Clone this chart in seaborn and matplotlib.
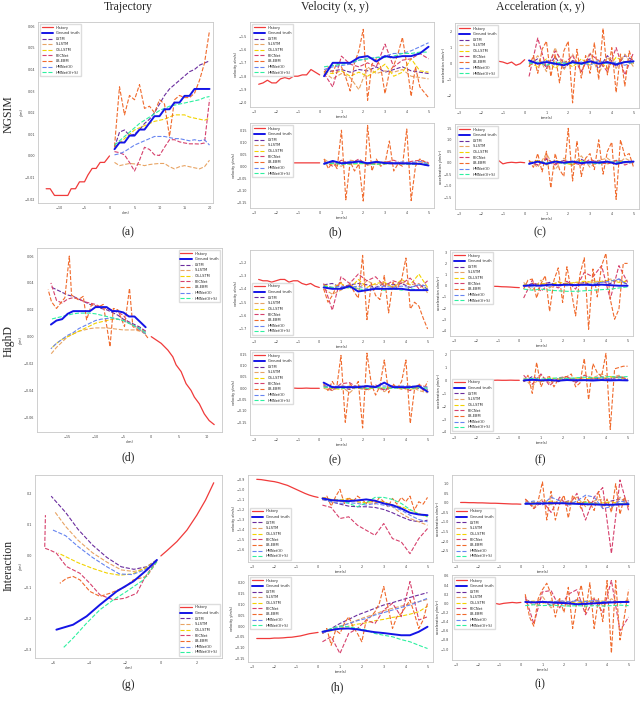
import matplotlib
matplotlib.use("Agg")
import matplotlib.pyplot as plt
import seaborn as sns

# ---------------- shared axes data ----------------
t_hist = [-2.8, -2.6, -2.4, -2.2, -2.0, -1.8, -1.6, -1.4, -1.2, -1.0, -0.8, -0.6, -0.4, -0.2, 0.0]
t_pred = [0.2, 0.6, 1.0, 1.4, 1.8, 2.2, 2.6, 3.0, 3.4, 3.8, 4.2, 4.6, 5.0]
t_fine = [0.2, 0.4, 0.6, 0.8, 1.0, 1.2, 1.4, 1.6, 1.8, 2.0, 2.2, 2.4, 2.6, 2.8, 3.0,
          3.2, 3.4, 3.6, 3.8, 4.0, 4.2, 4.4, 4.6, 4.8, 5.0]
series_names = ["History", "Ground truth", "LSTM", "S-LSTM", "CS-LSTM", "PECNet",
                "LB-EBM", "HMNet(V)", "HMNet(V+S)"]
col_titles = ["Trajectory", "Velocity (x, y)", "Acceleration (x, y)"]
row_titles = ["NGSIM", "HighD", "Interaction"]
panel_tags = ["(a)", "(b)", "(c)", "(d)", "(e)", "(f)", "(g)", "(h)", "(i)"]

# ---------------- (a) NGSIM trajectory ----------------
a_hist_x = [-12.67, -11.87, -11.0, -8.33, -7.67, -6.8, -6.0, -5.0, -4.33, -3.47, -2.67, -1.87, -1.0, 0.0]
a_hist_y = [-0.0152, -0.0152, -0.0183, -0.0183, -0.0152, -0.0152, -0.012, -0.012, -0.0089, -0.0058,
            -0.0058, -0.003, -0.003, 0.0]
a_pred_x = [1, 2, 3, 4, 5, 6, 7, 8, 9, 10, 11, 12, 13, 14, 15, 16, 17, 18, 19, 20]
a_gt = [0.0031, 0.0062, 0.0062, 0.0094, 0.0094, 0.0122, 0.0122, 0.0153, 0.0184, 0.0184, 0.0216, 0.0216,
        0.0247, 0.0247, 0.0278, 0.0278, 0.031, 0.031, 0.031, 0.031]
a_lstm = [0.004, 0.011, 0.012, 0.0095, 0.010, 0.012, 0.015, 0.017, 0.020, 0.024, 0.028, 0.031, 0.033,
          0.035, 0.037, 0.039, 0.040, 0.042, 0.043, 0.044]
a_slstm = [-0.003, -0.0045, -0.004, -0.0035, -0.0037, -0.004, -0.0045, -0.004, -0.0037, -0.0035, -0.0035,
           -0.005, -0.006, -0.005, -0.0045, -0.005, -0.0055, -0.006, -0.005, -0.002]
a_cslstm = [0.004, 0.006, 0.008, 0.010, 0.012, 0.013, 0.014, 0.015, 0.016, 0.0165, 0.017, 0.018, 0.019,
            0.019, 0.019, 0.018, 0.0175, 0.017, 0.0165, 0.0175]
a_pecnet = [0.002, 0.0015, 0.0005, -0.003, -0.007, -0.002, 0.004, 0.003, 0.0005, 0.0002, 0.004, 0.0075,
            0.0075, 0.0065, 0.006, 0.0056, 0.0056, 0.0055, 0.006, 0.026]
a_lbebm = [0.0044, 0.032, 0.019, 0.028, 0.026, 0.033, 0.022, 0.023, 0.020, 0.026, 0.024, 0.009, 0.026,
           0.028, 0.027, 0.027, 0.029, 0.035, 0.043, 0.058]
a_hmv = [0.0005, 0.001, 0.002, 0.0035, 0.005, 0.006, 0.007, 0.008, 0.009, 0.009, 0.009, 0.0085, 0.008,
         0.008, 0.0075, 0.007, 0.0075, 0.007, 0.0075, 0.005]
a_hmvs = [0.005, 0.007, 0.009, 0.011, 0.013, 0.015, 0.0165, 0.018, 0.0195, 0.021, 0.022, 0.023, 0.0235,
          0.024, 0.0245, 0.025, 0.0255, 0.026, 0.027, 0.0275]

# ---------------- (d) HighD trajectory ----------------
d_hist_x = [0, 1.79, 2.98, 3.87, 4.46, 5.36, 6.25, 7.14, 7.74, 8.63, 9.52, 10.4, 11.3]
d_hist_y = [0, -0.005, -0.010, -0.015, -0.021, -0.026, -0.035, -0.040, -0.045, -0.050, -0.0575, -0.0625, -0.0655]
d_pred_x = [-1, -2, -3, -4, -5, -6, -7, -8, -9, -10, -11, -12, -13, -14, -15, -16, -17, -18]
d_gt = [0.007, 0.011, 0.015, 0.015, 0.018, 0.019, 0.019, 0.022, 0.022, 0.022, 0.019, 0.019, 0.019, 0.019,
        0.017, 0.013, 0.012, 0.009]
d_lstm = [0.004, 0.007, 0.009, 0.011, 0.013, 0.016, 0.018, 0.020, 0.021, 0.023, 0.024, 0.026, 0.028, 0.030,
          0.031, 0.033, 0.035, 0.037]
d_slstm = [0.002, 0.004, 0.005, 0.005, 0.005, 0.0055, 0.006, 0.0065, 0.0065, 0.0065, 0.006, 0.005, 0.004,
           0.002, 0.0, -0.004, -0.008, -0.013]
d_cslstm = [0.002, 0.005, 0.008, 0.010, 0.012, 0.013, 0.013, 0.012, 0.011, 0.010, 0.008, 0.006, 0.004,
            0.002, 0.0, -0.002, -0.005, -0.009]
d_pecnet = [0.004, 0.006, 0.008, 0.010, 0.016, 0.018, 0.020, 0.021, 0.022, 0.024, 0.025, 0.026, 0.028,
            0.029, 0.028, 0.025, 0.027, 0.040]
d_lbebm_x = [-0.6, -1.5, -2.4, -3.3, -3.9, -4.8, -6.0, -6.8, -7.4, -8.6, -9.5, -10.7, -11.6, -12.2, -13.1,
             -14.3, -14.7, -15.5, -17.0, -17.9, -18.5]
d_lbebm = [-0.001, 0.004, 0.005, 0.0075, 0.036, 0.0075, 0.020, 0.021, -0.0075, 0.024, 0.022, 0.024, 0.0125,
           0.030, 0.0275, 0.031, 0.060, 0.029, 0.021, 0.026, 0.035]
d_hmv = [0.002, 0.005, 0.008, 0.010, 0.012, 0.013, 0.014, 0.0135, 0.013, 0.012, 0.010, 0.008, 0.006, 0.003,
         0.001, -0.002, -0.005, -0.009]
d_hmvs = [0.003, 0.006, 0.008, 0.010, 0.012, 0.013, 0.014, 0.015, 0.016, 0.017, 0.0175, 0.0175, 0.0175,
          0.017, 0.016, 0.015, 0.014, 0.013]

# ---------------- (g) Interaction trajectory ----------------
g_hist_x = [0, 0.34, 0.89, 1.45, 2.0, 2.48, 2.94]
g_hist_y = [0, 0.017, 0.046, 0.083, 0.131, 0.179, 0.235]
g_gt_x = [-0.22, -0.78, -1.53, -2.46, -3.39, -4.13, -4.88, -5.81]
g_gt_y = [-0.013, -0.045, -0.082, -0.114, -0.157, -0.194, -0.221, -0.237]
g_lstm_x = [-0.22, -0.8, -1.5, -2.2, -3.0, -3.8, -4.6, -5.3, -6.1]
g_lstm_y = [-0.013, -0.035, -0.043, -0.035, -0.005, 0.035, 0.085, 0.14, 0.192]
g_slstm_x = [-0.22, -0.8, -1.5, -2.2, -3.0, -3.8, -4.6, -5.3, -5.9]
g_slstm_y = [-0.013, -0.04, -0.05, -0.045, -0.02, 0.01, 0.05, 0.095, 0.142]
g_cslstm_x = [-0.22, -0.9, -1.6, -2.3, -3.0, -3.8, -4.6, -5.2, -5.7]
g_cslstm_y = [-0.013, -0.04, -0.058, -0.062, -0.055, -0.04, -0.022, -0.005, 0.009]
g_pecnet_x = [-0.22, -0.9, -1.34, -2.0, -2.64, -3.39, -3.95, -4.5, -5.25, -5.53, -5.81, -6.18, -6.46, -6.42]
g_pecnet_y = [-0.013, -0.07, -0.12, -0.136, -0.141, -0.125, -0.088, -0.056, -0.034, -0.013, 0.009, 0.019,
              0.025, 0.131]
g_lbebm_x = [-0.22, -0.78, -1.53, -2.0, -2.83, -3.39, -3.95, -4.5, -4.88, -5.25, -5.62]
g_lbebm_y = [-0.018, -0.066, -0.077, -0.10, -0.12, -0.13, -0.114, -0.077, -0.066, -0.072, -0.088]
g_hmv_x = [-0.22, -0.9, -1.6, -2.3, -3.0, -3.8, -4.6, -5.3, -6.0]
g_hmv_y = [-0.013, -0.045, -0.06, -0.058, -0.035, -0.005, 0.03, 0.065, 0.083]
g_hmvs_x = [-0.22, -0.97, -1.9, -2.64, -3.39, -4.13, -4.88, -5.44]
g_hmvs_y = [-0.018, -0.077, -0.114, -0.141, -0.173, -0.216, -0.264, -0.296]

# ---------------- (b) NGSIM velocity ----------------
b1_hist = [-1.86, -1.85, -1.83, -1.85, -1.85, -1.82, -1.81, -1.82, -1.80, -1.80, -1.79, -1.79, -1.75, -1.77, -1.79]
b1_gt = [-1.80, -1.70, -1.70, -1.70, -1.66, -1.65, -1.69, -1.65, -1.66, -1.65, -1.65, -1.63, -1.58]
b1_lstm = [-1.77, -1.76, -1.75, -1.77, -1.75, -1.76, -1.73, -1.77, -1.75, -1.73, -1.76, -1.77, -1.78]
b1_slstm = [-1.77, -1.82, -1.78, -1.81, -1.90, -1.73, -1.78, -1.76, -1.77, -1.75, -1.80, -1.81, -1.82]
b1_cslstm = [-1.77, -1.78, -1.76, -1.80, -1.77, -1.80, -1.76, -1.71, -1.80, -1.77, -1.67, -1.76, -1.77]
b1_pecnet = [-1.78, -1.88, -1.65, -1.71, -1.73, -1.70, -1.73, -1.56, -1.73, -1.68, -1.67, -1.63, -1.67]
b1_lbebm = [-1.77, -1.73, -1.77, -1.70, -1.73, -1.81, -1.91, -1.70, -1.61, -1.45, -1.98, -1.71, -1.67, -1.73,
            -1.93, -1.77, -1.72, -1.63, -1.51, -1.71, -1.95, -1.73, -1.88, -1.92, -1.96]
b1_hmv = [-1.75, -1.73, -1.72, -1.71, -1.68, -1.67, -1.66, -1.65, -1.63, -1.63, -1.61, -1.58, -1.55]
b1_hmvs = [-1.73, -1.72, -1.71, -1.70, -1.68, -1.67, -1.66, -1.66, -1.65, -1.63, -1.63, -1.62, -1.62]

b2_hist = [0.012, 0.015, 0.005, 0.012, 0.017, 0.005, 0.013, 0.014, 0.014, 0.014, 0.014, 0.014, 0.014, 0.014, 0.014]
b2_gt = [0.010, 0.022, 0.012, 0.015, 0.020, 0.012, 0.018, 0.013, 0.012, 0.012, 0.011, 0.010, 0.003]
b2_lstm = [0.010, 0.015, 0.010, 0.012, 0.013, 0.010, 0.014, 0.012, 0.010, 0.012, 0.010, 0.011, 0.002]
b2_slstm = [0.030, 0.005, 0.000, 0.025, 0.020, 0.005, 0.010, 0.020, 0.015, 0.010, 0.012, 0.018, 0.010]
b2_cslstm = [0.015, 0.010, 0.012, 0.008, 0.010, 0.012, 0.008, 0.010, 0.012, 0.010, 0.008, 0.010, 0.005]
b2_pecnet = [0.020, 0.000, 0.025, 0.010, 0.030, 0.005, 0.020, 0.015, 0.025, 0.010, 0.020, 0.025, 0.015]
b2_lbebm = [0.03, -0.01, 0.02, -0.01, 0.15, -0.14, 0.02, -0.02, 0.01, -0.145, 0.17, -0.02, 0.03, 0.0, 0.01,
            0.105, -0.02, 0.01, 0.0, 0.155, -0.143, 0.0, 0.03, 0.02, 0.01]
b2_hmv = [0.015, 0.018, 0.015, 0.020, 0.015, 0.015, 0.018, 0.016, 0.015, 0.018, 0.015, 0.020, 0.010]
b2_hmvs = [0.010, 0.012, 0.008, 0.010, 0.012, 0.010, 0.008, 0.010, 0.012, 0.010, 0.008, 0.010, 0.008]

# ---------------- (c) NGSIM acceleration ----------------
c1_hist = [0.2, 0.1, 0.3, 0.2, 0.1, 0.2, 0.25, 0.2, 0.15, 0.1, 0.0, 0.1, -0.1, 0.0, 0.25]
c1_gt = [0.2, 0.0, 0.1, 0.0, -0.1, 0.1, 0.0, 0.15, 0.0, 0.1, -0.05, 0.1, 0.15]
c1_lstm = [0.0, 0.3, -0.2, 0.4, -0.3, 0.2, 0.0, 0.3, -0.3, 0.5, -0.2, 0.5, 0.2]
c1_slstm = [-0.2, 0.5, -0.5, 1.0, -0.4, 0.6, -0.5, 0.7, -0.6, 0.4, -0.3, 0.6, -0.2]
c1_cslstm = [0.1, -0.2, 0.3, -0.3, 0.2, -0.2, 0.3, -0.1, 0.2, -0.3, 0.4, 0.1, 0.0]
c1_pecnet = [-0.8, 1.6, -0.3, 0.8, 0.0, 0.5, -0.5, 0.6, 0.2, -0.5, 1.0, -0.7, 0.7]
c1_lbebm = [-0.2, 0.5, -0.6, 0.9, 1.4, -0.8, 0.6, -1.2, 0.8, 1.4, -2.45, 0.9, -0.9, 0.5, -0.6, 1.3, -1.0,
            2.2, -0.7, 1.0, -1.8, 0.6, -1.4, 0.8, 0.0]
c1_hmv = [0.1, 0.0, 0.2, -0.1, 0.1, 0.0, 0.1, -0.1, 0.2, 0.0, 0.1, -0.1, 0.1]
c1_hmvs = [0.0, 0.1, -0.1, 0.1, 0.0, 0.05, -0.05, 0.1, 0.0, 0.05, 0.0, 0.1, 0.05]

c2_hist = [0.0, 0.02, 0.0, 0.05, -0.05, 0.0, 0.03, 0.0, 0.1, -0.05, 0.0, 0.02, 0.0, 0.02, 0.0]
c2_gt = [-0.05, 0.05, -0.05, 0.05, 0.0, 0.05, -0.02, 0.03, 0.0, 0.05, -0.05, 0.03, 0.05]
c2_lstm = [0.05, -0.1, 0.15, -0.05, 0.1, -0.1, 0.15, -0.05, 0.1, -0.05, 0.1, 0.05, 0.0]
c2_slstm = [0.1, -0.2, 0.4, -0.3, 0.2, -0.1, 0.3, -0.2, 0.1, 0.2, -0.1, 0.2, 0.0]
c2_cslstm = [0.0, 0.1, -0.1, 0.1, 0.0, -0.1, 0.1, 0.0, 0.05, -0.05, 0.1, 0.0, 0.05]
c2_pecnet = [0.05, -0.1, 0.2, -0.1, 0.1, 0.0, -0.1, 0.15, 0.0, -0.05, 0.1, -0.1, 0.05]
c2_lbebm = [0.1, -0.2, 0.4, -0.4, 0.5, -1.1, 0.4, -0.3, -0.6, 1.5, -0.8, 0.95, -0.6, 0.2, 0.4, -0.3, 1.0,
            -0.5, 0.5, 0.9, -1.6, 1.0, 0.3, 0.4, -0.2]
c2_hmv = [0.0, 0.05, -0.05, 0.05, 0.0, 0.05, 0.0, -0.05, 0.05, 0.0, 0.05, 0.0, 0.0]
c2_hmvs = [-0.05, 0.05, 0.0, 0.05, -0.05, 0.0, 0.05, 0.0, -0.05, 0.05, 0.0, 0.05, 0.0]

# ---------------- (e) HighD velocity ----------------
e1_hist = [-1.33, -1.34, -1.34, -1.35, -1.34, -1.33, -1.33, -1.35, -1.34, -1.34, -1.36, -1.37, -1.36, -1.38, -1.39]
e1_gt = [-1.39, -1.40, -1.40, -1.38, -1.42, -1.41, -1.40, -1.40, -1.40, -1.40, -1.41, -1.41, -1.41]
e1_lstm = [-1.37, -1.36, -1.39, -1.37, -1.36, -1.37, -1.39, -1.36, -1.37, -1.36, -1.39, -1.37, -1.40]
e1_slstm = [-1.40, -1.44, -1.41, -1.37, -1.40, -1.34, -1.37, -1.36, -1.39, -1.35, -1.37, -1.36, -1.43]
e1_cslstm = [-1.37, -1.39, -1.36, -1.40, -1.33, -1.39, -1.36, -1.35, -1.39, -1.33, -1.37, -1.29, -1.39]
e1_pecnet = [-1.36, -1.56, -1.31, -1.36, -1.29, -1.34, -1.31, -1.38, -1.34, -1.36, -1.32, -1.40, -1.34]
e1_lbebm = [-1.40, -1.50, -1.45, -1.38, -1.35, -1.40, -1.36, -1.42, -1.47, -1.15, -1.63, -1.36, -1.45, -1.48,
            -1.30, -1.58, -1.35, -1.40, -1.33, -1.17, -1.55, -1.50, -1.53, -1.62, -1.70]
e1_hmv = [-1.38, -1.39, -1.38, -1.39, -1.38, -1.40, -1.39, -1.38, -1.39, -1.38, -1.39, -1.37, -1.38]
e1_hmvs = [-1.38, -1.39, -1.40, -1.39, -1.40, -1.41, -1.40, -1.41, -1.40, -1.41, -1.40, -1.41, -1.40]

e2_hist = [0.0, 0.0, 0.001, 0.0, 0.0, 0.001, 0.0, 0.0, 0.001, 0.0, 0.0, 0.001, 0.0, 0.0, 0.0]
e2_gt = [0.025, 0.005, 0.005, 0.005, 0.005, 0.01, 0.005, 0.025, 0.005, 0.005, 0.005, 0.01, -0.015]
e2_lstm = [0.01, 0.0, 0.005, -0.005, 0.01, 0.0, 0.005, -0.005, 0.01, 0.0, 0.005, 0.0, -0.005]
e2_slstm = [0.0, -0.01, 0.01, -0.02, 0.015, -0.01, 0.01, -0.015, 0.01, -0.005, 0.01, -0.01, -0.02]
e2_cslstm = [0.005, 0.0, -0.005, 0.01, 0.0, -0.005, 0.005, 0.0, 0.005, 0.0, -0.005, 0.005, -0.01]
e2_pecnet = [0.015, -0.01, 0.02, 0.025, 0.0, -0.005, 0.015, -0.01, 0.01, 0.005, -0.01, 0.015, 0.005]
e2_lbebm = [0.02, -0.01, 0.03, 0.0, 0.145, -0.15, 0.02, 0.0, 0.03, -0.175, 0.155, 0.02, -0.03, 0.01, 0.125,
            -0.02, 0.02, 0.0, 0.03, 0.125, -0.155, 0.0, 0.02, -0.01, 0.03]
e2_hmv = [0.01, 0.008, 0.01, 0.008, 0.01, 0.008, 0.01, 0.01, 0.008, 0.01, 0.01, 0.008, 0.005]
e2_hmvs = [0.005, 0.003, 0.0, 0.003, 0.002, 0.0, 0.003, 0.002, 0.0, 0.002, 0.0, 0.003, 0.0]

# ---------------- (f) HighD acceleration ----------------
f1_hist = [0.06, 0.05, 0.05, 0.03, 0.02, 0.01, -0.01, -0.03, -0.05, -0.06, -0.09, -0.1, -0.12, -0.15, -0.17]
f1_gt = [0.0, 0.05, 0.0, 0.1, 0.05, 0.1, 0.05, 0.1, 0.05, 0.1, 0.05, 0.0, 0.0]
f1_lstm = [-0.1, 0.2, 0.1, 0.3, 0.0, 0.2, 0.1, 0.3, 0.0, 0.4, 0.2, 0.6, 0.1]
f1_slstm = [0.3, -0.4, 0.5, -0.2, 0.4, 0.0, 0.3, 0.2, 0.5, 0.3, 0.6, 0.4, 0.5]
f1_cslstm = [0.1, 0.0, 0.2, 0.1, 0.3, 0.2, 0.3, 0.4, 0.3, 0.4, 0.5, 0.3, 0.4]
f1_pecnet = [-1.1, 0.5, -0.5, 0.2, -0.2, 0.4, -0.3, 1.2, 0.8, 1.8, -1.2, 1.8, 0.3]
f1_lbebm = [-0.3, 0.5, 0.6, -1.1, 0.2, 0.9, -2.3, 0.5, 1.6, -1.5, 1.7, -0.5, -2.7, 1.0, 2.5, -3.9, 1.5,
            -1.0, 1.8, 2.9, -1.2, -3.0, -2.1, 2.0, 2.0]
f1_hmv = [0.0, -0.1, 0.05, -0.05, 0.1, 0.0, 0.1, 0.05, 0.2, 0.3, 0.4, 0.6, 0.0]
f1_hmvs = [-0.3, -0.4, -0.3, -0.4, -0.45, -0.5, -0.5, -0.45, -0.4, -0.35, -0.3, -0.2, -0.1]

f2_hist = [0.02, 0.02, 0.01, 0.02, 0.01, 0.01, 0.02, 0.01, 0.01, 0.02, 0.01, 0.01, 0.02, 0.01, 0.01]
f2_gt = [0.0, 0.05, 0.0, 0.02, -0.02, 0.03, 0.0, 0.02, -0.01, 0.03, 0.0, 0.02, 0.0]
f2_lstm = [-0.1, 0.3, 0.0, 0.1, -0.1, 0.2, 0.1, 0.0, 0.1, 0.2, 0.1, 0.3, 0.0]
f2_slstm = [0.2, -0.5, 0.4, -0.2, 0.1, 0.3, -0.1, 0.4, 0.2, 0.5, 0.2, 0.4, 0.1]
f2_cslstm = [0.0, 0.1, -0.1, 0.2, 0.1, 0.0, 0.2, 0.1, 0.2, 0.1, 0.3, 0.2, 0.1]
f2_pecnet = [0.4, -0.3, 0.5, -0.4, 0.2, 0.3, -0.2, 0.4, 0.1, 0.3, 0.0, 0.3, 0.1]
f2_lbebm = [-0.1, 0.4, -1.0, 1.4, -0.5, 0.2, 0.3, -0.5, 0.1, 0.2, 0.3, 0.5, -0.5, -0.2, 1.7, -1.5, 1.3,
            0.6, 0.3, 2.1, -3.8, 0.9, 1.0, 1.1, 1.1]
f2_hmv = [0.0, 0.02, 0.0, 0.03, 0.0, 0.02, 0.05, 0.03, 0.05, 0.1, 0.1, 0.1, 0.05]
f2_hmvs = [0.1, 0.15, 0.1, 0.15, 0.2, 0.15, 0.2, 0.25, 0.2, 0.25, 0.3, 0.25, 0.3]

# ---------------- (h) Interaction velocity ----------------
h1_hist = [-0.90, -0.903, -0.91, -0.917, -0.923, -0.933, -0.947, -0.96, -0.98, -1.0, -1.02, -1.04, -1.057, -1.07, -1.08]
h1_gt = [-1.09, -1.107, -1.113, -1.117, -1.11, -1.10, -1.113, -1.14, -1.157, -1.19, -1.233, -1.25, -1.257]
h1_lstm = [-1.10, -1.123, -1.147, -1.167, -1.173, -1.173, -1.18, -1.20, -1.233, -1.273, -1.307, -1.323, -1.307]
h1_slstm = [-1.09, -1.107, -1.123, -1.10, -1.123, -1.14, -1.133, -1.123, -1.173, -1.24, -1.29, -1.323, -1.357]
h1_cslstm = [-1.08, -1.10, -1.107, -1.09, -1.123, -1.133, -1.113, -1.123, -1.157, -1.173, -1.207, -1.24, -1.273]
h1_pecnet = [-1.157, -1.18, -1.29, -1.273, -1.357, -1.407, -1.457, -1.34, -1.49, -1.523, -1.64, -1.49, -1.39]
h1_lbebm = [-1.107, -1.067, -1.167, -1.073, -1.0, -1.14, -1.08, -1.123, -1.067, -1.10, -1.14, -1.10, -1.147,
            -1.08, -1.123, -1.173, -1.09, -1.147, -1.08, -1.123, -1.067, -1.207, -1.123, -1.147, -1.08]
h1_hmv = [-1.10, -1.123, -1.14, -1.133, -1.14, -1.157, -1.14, -1.157, -1.173, -1.207, -1.257, -1.30, -1.323]
h1_hmvs = [-1.09, -1.113, -1.107, -1.14, -1.173, -1.133, -1.08, -1.08, -1.10, -1.14, -1.20, -1.247, -1.273]

h2_hist = [-0.057, -0.057, -0.057, -0.057, -0.055, -0.055, -0.054, -0.052, -0.051, -0.048, -0.045, -0.040,
           -0.035, -0.032, -0.029]
h2_gt = [-0.026, -0.018, -0.012, -0.011, -0.015, -0.022, -0.028, -0.032, -0.037, -0.042, -0.042, -0.026, -0.003]
h2_lstm = [-0.034, -0.011, 0.012, 0.031, 0.051, 0.066, 0.082, 0.097, 0.108, 0.12, 0.132, 0.143, 0.154]
h2_slstm = [-0.031, -0.015, 0.0, 0.012, 0.028, 0.043, 0.055, 0.071, 0.082, 0.092, 0.102, 0.112, 0.123]
h2_cslstm = [-0.026, -0.022, -0.011, 0.0, 0.009, 0.015, 0.025, 0.031, 0.040, 0.046, 0.055, 0.066, 0.092]
h2_pecnet = [-0.072, -0.049, -0.126, -0.034, -0.011, 0.028, 0.012, 0.074, 0.105, 0.043, 0.205, 0.028, 0.043]
h2_lbebm = [-0.034, -0.011, -0.088, -0.019, -0.034, 0.012, 0.043, -0.003, -0.034, -0.072, 0.028, 0.043,
            0.066, 0.105, 0.182, 0.086, -0.011, 0.043, 0.058, 0.089, 0.12, 0.058, -0.011, 0.028, 0.105]
h2_hmv = [-0.031, -0.018, -0.003, 0.012, 0.025, 0.035, 0.051, 0.062, 0.074, 0.086, 0.097, 0.112, 0.128]
h2_hmvs = [-0.026, -0.011, 0.0, -0.003, -0.011, -0.018, -0.034, -0.042, -0.049, -0.062, -0.072, -0.088, -0.103]

# ---------------- (i) Interaction acceleration ----------------
i1_hist = [0.02, 0.02, 0.01, 0.01, 0.0, 0.0, -0.01, -0.02, -0.02, -0.03, -0.04, -0.05, -0.06, -0.06, -0.07]
i1_gt = [-0.05, -0.04, -0.03, -0.02, -0.02, -0.03, -0.05, -0.07, -0.08, -0.1, -0.1, -0.08, -0.07]
i1_lstm = [-0.05, 0.0, -0.1, 0.05, -0.05, 0.1, -0.05, 0.05, 0.0, -0.1, 0.1, 0.2, 0.1]
i1_slstm = [0.1, -0.2, 0.2, -0.1, 0.15, 0.0, 0.3, -0.2, 0.1, 0.2, -0.3, 0.3, -0.2]
i1_cslstm = [0.0, 0.05, -0.05, 0.1, -0.05, 0.05, 0.0, 0.05, -0.05, 0.0, 0.05, -0.05, 0.0]
i1_pecnet = [0.2, -0.3, 0.1, -0.5, 0.3, -0.2, 0.5, -0.9, 0.3, 0.8, -2.65, 1.2, -0.4]
i1_lbebm = [0.2, 0.0, -0.3, 0.1, 1.1, -0.9, 0.6, -0.9, 0.0, 0.4, -0.8, 0.4, 0.1, -0.3, 0.3, 0.0, -0.4,
            0.6, -0.3, 0.2, -0.5, 1.0, -0.6, 0.3, -0.2]
i1_hmv = [0.0, 0.1, -0.1, 0.3, 0.1, -0.1, 0.1, 0.4, 0.3, -0.3, -0.2, 0.1, 0.0]
i1_hmvs = [-0.05, -0.05, 0.0, -0.05, 0.0, -0.05, -0.05, 0.0, -0.05, -0.1, -0.1, -0.05, -0.05]

i2_hist = [0.01, 0.0, 0.02, 0.0, -0.01, 0.0, 0.02, 0.01, 0.0, -0.02, 0.0, 0.01, 0.02, 0.01, 0.02]
i2_gt = [0.03, 0.02, 0.03, 0.02, 0.01, 0.0, -0.02, -0.01, 0.0, 0.01, 0.02, 0.03, 0.03]
i2_lstm = [0.08, 0.02, 0.05, -0.05, 0.05, 0.0, 0.08, -0.03, 0.05, 0.0, 0.05, 0.02, 0.05]
i2_slstm = [0.1, -0.05, 0.15, -0.1, 0.1, -0.05, 0.08, 0.0, 0.12, -0.05, 0.1, 0.0, 0.08]
i2_cslstm = [0.03, 0.05, 0.0, 0.05, 0.02, 0.04, 0.0, 0.05, 0.03, 0.05, 0.02, 0.04, 0.03]
i2_pecnet = [0.15, -0.45, 0.25, 0.28, -0.1, 0.2, 0.3, -0.25, 0.1, -0.2, 0.5, -0.6, -0.3]
i2_lbebm = [0.2, -0.3, -0.5, 0.1, 0.3, 0.44, 0.2, -0.3, 0.1, -0.2, 0.35, -0.55, 0.05, 0.4, -0.2, 0.45,
            -0.55, 0.1, -0.4, 0.5, -1.09, 0.5, -0.8, -0.3, 0.3]
i2_hmv = [0.03, 0.02, 0.04, 0.03, 0.05, 0.04, 0.05, 0.04, 0.06, 0.04, 0.03, 0.02, 0.03]
i2_hmvs = [-0.05, -0.03, -0.05, -0.04, -0.05, -0.06, -0.05, -0.06, -0.05, -0.06, -0.05, -0.04, -0.05]

# ---------------- styling ----------------
sns.set_theme(style="white")
plt.rcParams["font.family"] = ["DejaVu Sans"]
plt.rcParams["axes.edgecolor"] = "#c8c8c8"
plt.rcParams["axes.linewidth"] = 0.6

STY = {
    "History": ("#f03a3a", "-", 0.9),
    "Ground truth": ("#1414e6", "-", 1.4),
    "LSTM": ("#6a2c9e", "--", 0.8),
    "S-LSTM": ("#e8a464", "--", 0.8),
    "CS-LSTM": ("#f2d300", "--", 0.8),
    "PECNet": ("#d6406c", "--", 0.8),
    "LB-EBM": ("#f06a2c", "--", 0.8),
    "HMNet(V)": ("#6684f0", "--", 0.8),
    "HMNet(V+S)": ("#2ef0a0", "--", 0.8),
}

W, H = 640, 701
fig = plt.figure(figsize=(W / 100, H / 100), dpi=100)


def add_ax(x0, y0, x1, y1):
    return fig.add_axes([x0 / W, 1 - y1 / H, (x1 - x0) / W, (y1 - y0) / H])


def draw(ax, pairs, legend_loc, xlabel, ylabel):
    for name, (xs, ys) in zip(series_names, pairs):
        c, ls, lw = STY[name]
        sns.lineplot(x=xs, y=ys, ax=ax, color=c, linestyle=ls, linewidth=lw, label=name,
                     sort=False, estimator=None, zorder=4 if name == "Ground truth" else 2)
    ax.legend(loc=legend_loc, fontsize=2.6, frameon=True, framealpha=1, edgecolor="#dddddd",
              handlelength=3.2, labelspacing=0.45, borderpad=0.5, fancybox=False)
    ax.tick_params(labelsize=2.4, length=1.2, width=0.3, pad=1, colors="#444444")
    ax.set_xlabel(xlabel, fontsize=2.4, labelpad=0.5)
    ax.set_ylabel(ylabel, fontsize=2.4, labelpad=0.5)


def small(ax, hist, gt, lstm, slstm, cslstm, pecnet, lbebm, hmv, hmvs, loc, ylab, ylim, yticks):
    pairs = [(t_hist, hist), (t_pred, gt), (t_pred, lstm), (t_pred, slstm), (t_pred, cslstm),
             (t_pred, pecnet), (t_fine, lbebm), (t_pred, hmv), (t_pred, hmvs)]
    draw(ax, pairs, loc, "time(s)", ylab)
    ax.set_xlim(-3.2, 5.25)
    ax.set_xticks([-3, -2, -1, 0, 1, 2, 3, 4, 5])
    ax.set_ylim(*ylim)
    ax.set_yticks(yticks)


# (a)
ax = add_ax(38, 22, 213, 203)
draw(ax, [(a_hist_x, a_hist_y), (a_pred_x, a_gt), (a_pred_x, a_lstm), (a_pred_x, a_slstm),
          (a_pred_x, a_cslstm), (a_pred_x, a_pecnet), (a_pred_x, a_lbebm), (a_pred_x, a_hmv),
          (a_pred_x, a_hmvs)], "upper left", "x(m)", "y(m)")
ax.set_xlim(-14.3, 20.7)
ax.set_ylim(-0.0218, 0.062)
ax.set_xticks([-10, -5, 0, 5, 10, 15, 20])
ax.set_yticks([-0.02, -0.01, 0.0, 0.01, 0.02, 0.03, 0.04, 0.05, 0.06])

# (d)
ax = add_ax(37, 248, 222, 432)
draw(ax, [(d_hist_x, d_hist_y), (d_pred_x, d_gt), (d_pred_x, d_lstm), (d_pred_x, d_slstm),
          (d_pred_x, d_cslstm), (d_pred_x, d_pecnet), (d_lbebm_x, d_lbebm), (d_pred_x, d_hmv),
          (d_pred_x, d_hmvs)], "upper right", "x(m)", "y(m)")
ax.set_xlim(-20.5, 12.7)
ax.set_ylim(-0.071, 0.066)
ax.set_xticks([-15, -10, -5, 0, 5, 10])
ax.set_yticks([-0.06, -0.04, -0.02, 0.0, 0.02, 0.04, 0.06])

# (g)
ax = add_ax(35, 475, 222, 658)
draw(ax, [(g_hist_x, g_hist_y), (g_gt_x, g_gt_y), (g_lstm_x, g_lstm_y), (g_slstm_x, g_slstm_y),
          (g_cslstm_x, g_cslstm_y), (g_pecnet_x, g_pecnet_y), (g_lbebm_x, g_lbebm_y),
          (g_hmv_x, g_hmv_y), (g_hmvs_x, g_hmvs_y)], "lower right", "x(m)", "y(m)")
ax.set_xlim(-7.0, 3.4)
ax.set_ylim(-0.328, 0.26)
ax.set_xticks([-6, -4, -2, 0, 2])
ax.set_yticks([-0.3, -0.2, -0.1, 0.0, 0.1, 0.2])

# (b)
small(add_ax(250, 22, 434, 107), b1_hist, b1_gt, b1_lstm, b1_slstm, b1_cslstm, b1_pecnet, b1_lbebm,
      b1_hmv, b1_hmvs, "upper left", "velocity x(m/s)", (-2.03, -1.395),
      [-2.0, -1.9, -1.8, -1.7, -1.6, -1.5])
small(add_ax(250, 123, 434, 208), b2_hist, b2_gt, b2_lstm, b2_slstm, b2_cslstm, b2_pecnet, b2_lbebm,
      b2_hmv, b2_hmvs, "upper left", "velocity y(m/s)", (-0.174, 0.18),
      [-0.15, -0.10, -0.05, 0.0, 0.05, 0.10, 0.15])
# (c)
small(add_ax(455, 23, 639, 108), c1_hist, c1_gt, c1_lstm, c1_slstm, c1_cslstm, c1_pecnet, c1_lbebm,
      c1_hmv, c1_hmvs, "upper left", "acceleration x(m/s²)", (-2.77, 2.54), [-2, -1, 0, 1, 2])
small(add_ax(455, 124, 639, 209), c2_hist, c2_gt, c2_lstm, c2_slstm, c2_cslstm, c2_pecnet, c2_lbebm,
      c2_hmv, c2_hmvs, "upper left", "acceleration y(m/s²)", (-2.02, 1.69),
      [-1.5, -1.0, -0.5, 0.0, 0.5, 1.0, 1.5])
# (e)
small(add_ax(250, 250, 433, 337), e1_hist, e1_gt, e1_lstm, e1_slstm, e1_cslstm, e1_pecnet, e1_lbebm,
      e1_hmv, e1_hmvs, "lower left", "velocity x(m/s)", (-1.76, -1.11),
      [-1.7, -1.6, -1.5, -1.4, -1.3, -1.2])
small(add_ax(250, 350, 433, 435), e2_hist, e2_gt, e2_lstm, e2_slstm, e2_cslstm, e2_pecnet, e2_lbebm,
      e2_hmv, e2_hmvs, "upper left", "velocity y(m/s)", (-0.206, 0.169),
      [-0.15, -0.10, -0.05, 0.0, 0.05, 0.10, 0.15])
# (f)
small(add_ax(450, 250, 633, 336), f1_hist, f1_gt, f1_lstm, f1_slstm, f1_cslstm, f1_pecnet, f1_lbebm,
      f1_hmv, f1_hmvs, "upper left", "acceleration x(m/s²)", (-4.5, 3.2), [-4, -3, -2, -1, 0, 1, 2, 3])
small(add_ax(450, 350, 633, 433), f2_hist, f2_gt, f2_lstm, f2_slstm, f2_cslstm, f2_pecnet, f2_lbebm,
      f2_hmv, f2_hmvs, "lower left", "acceleration y(m/s²)", (-4.08, 2.36), [-4, -3, -2, -1, 0, 1, 2])
# (h)
small(add_ax(248, 475, 433, 562), h1_hist, h1_gt, h1_lstm, h1_slstm, h1_cslstm, h1_pecnet, h1_lbebm,
      h1_hmv, h1_hmvs, "lower left", "velocity x(m/s)", (-1.723, -0.857),
      [-1.6, -1.5, -1.4, -1.3, -1.2, -1.1, -1.0, -0.9])
small(add_ax(248, 575, 433, 662), h2_hist, h2_gt, h2_lstm, h2_slstm, h2_cslstm, h2_pecnet, h2_lbebm,
      h2_hmv, h2_hmvs, "upper left", "velocity y(m/s)", (-0.165, 0.235),
      [-0.15, -0.10, -0.05, 0.0, 0.05, 0.10, 0.15, 0.20])
# (i)
small(add_ax(452, 475, 634, 562), i1_hist, i1_gt, i1_lstm, i1_slstm, i1_cslstm, i1_pecnet, i1_lbebm,
      i1_hmv, i1_hmvs, "lower left", "acceleration x(m/s²)", (-3.1, 1.46),
      [-2.5, -2.0, -1.5, -1.0, -0.5, 0.0, 0.5, 1.0])
small(add_ax(452, 575, 634, 660), i2_hist, i2_gt, i2_lstm, i2_slstm, i2_cslstm, i2_pecnet, i2_lbebm,
      i2_hmv, i2_hmvs, "upper left", "acceleration y(m/s²)", (-1.24, 0.62),
      [-1.0, -0.8, -0.6, -0.4, -0.2, 0.0, 0.2, 0.4, 0.6])

# ---------------- texts ----------------
serif = ["Liberation Serif", "DejaVu Serif"]
for txt, xc in zip(col_titles, [128, 335, 540]):
    fig.text(xc / W, 1 - 7 / H, txt, ha="center", va="center", fontsize=8.5, family=serif)
for txt, yc in zip(row_titles, [114, 341, 565]):
    fig.text(9 / W, 1 - yc / H, txt, ha="center", va="center", rotation=90, fontsize=8.5, family=serif)
tag_pos = [(128, 232), (335, 232), (540, 232), (128, 457), (335, 460), (540, 460),
           (128, 685), (337, 687), (540, 684)]
for txt, (xc, yc) in zip(panel_tags, tag_pos):
    fig.text(xc / W, 1 - yc / H, txt, ha="center", va="center", fontsize=8.5, family=serif)

fig.savefig("out.png", dpi=100)
